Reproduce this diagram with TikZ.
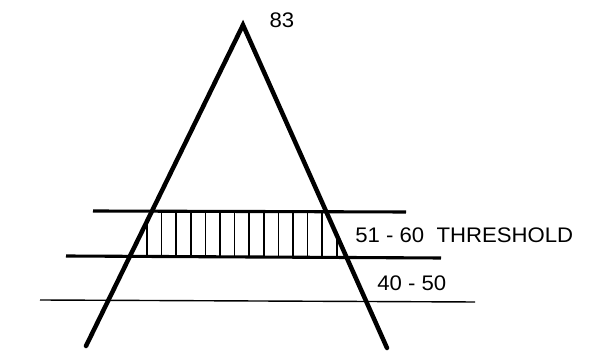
\documentclass[tikz,border=0pt]{standalone}
\usepackage{fontspec}
\setmainfont{Liberation Sans}
\usetikzlibrary{calc}
\tikzset{leg/.style={line width=3.2pt,line cap=round},
  band/.style={line width=2.2pt},
  thin line/.style={line width=1pt},
  hatch/.style={line width=1.2pt},
  lbl/.style={font=\fontsize{15}{15}\selectfont,inner sep=0pt}}
\newcommand{\wide}[1]{\scalebox{1.05}[1]{#1}}

\begin{document}
\begin{tikzpicture}[x=0.025cm,y=-0.025cm]
\useasboundingbox (0,0) rectangle (613,359);
\coordinate (apex) at (243,25);\coordinate (lfoot) at (86,346);\coordinate (rfoot) at (387,348);
% hatched band
\begin{scope}
\clip (apex)--(lfoot)--(rfoot)--cycle;
\foreach \x in {147,161.6,...,340} \draw[hatch] (\x,211)--(\x,257);
\end{scope}
\draw[band] (93,211)--(406,212);
\draw[band] (66,256)--(441,258);
\draw[thin line] (40,300)--(475,302);
\draw[leg] (lfoot)--(apex)--(rfoot);
\node[lbl] (top) at (282,20){\wide{83}};
\node[lbl,anchor=west] (thr) at (355,235){\wide{51 - 60\ \ THRESHOLD}};
\node[lbl,anchor=west] (low) at (377,283){\wide{40 - 50}};
\end{tikzpicture}
\end{document}
